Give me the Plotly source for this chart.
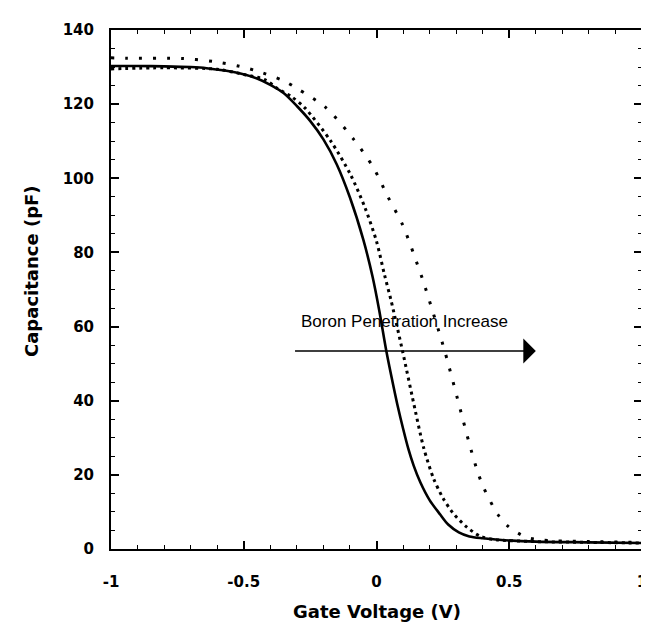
import plotly.graph_objects as go

# Gate voltage (V) and capacitance (pF)
x_solid = [-1.0, -0.9, -0.8, -0.7, -0.64, -0.52, -0.45, -0.4, -0.35, -0.3, -0.25, -0.2, -0.15, -0.1, -0.05,
           -0.015, 0.01, 0.037, 0.065, 0.08, 0.1, 0.12, 0.14, 0.165, 0.2, 0.24, 0.27, 0.31, 0.35, 0.4, 0.46,
           0.6, 0.8, 1.0]
y_solid = [130.3, 130.3, 130.2, 130.0, 129.7, 128.4, 126.9, 125.2, 123.0, 119.5, 115.5, 110.5, 103.8, 94.8, 83.5,
           73.5, 64.5, 53.4, 43.5, 38.5, 32.5, 27.0, 22.5, 18.0, 13.2, 9.3, 6.6, 4.5, 3.4, 2.9, 2.5,
           2.0, 1.8, 1.6]

x_dense = [-1.0, -0.8, -0.6, -0.5, -0.42, -0.375, -0.32, -0.27, -0.172, -0.098, -0.043, 0.0, 0.03, 0.055,
           0.098, 0.147, 0.178, 0.215, 0.25, 0.288, 0.337, 0.392, 0.45, 0.6, 0.8, 1.0]
y_dense = [129.5, 129.8, 129.4, 128.0, 126.6, 124.3, 122.0, 119.0, 110.0, 101.0, 92.0, 83.0, 74.0, 67.0,
           53.4, 37.0, 27.2, 19.0, 13.8, 9.7, 6.1, 3.4, 2.5, 2.0, 1.8, 1.6]

x_sparse = [-1.0, -0.94, -0.73, -0.614, -0.515, -0.453, -0.35, -0.294, -0.19, -0.086, -0.0125, 0.043, 0.098,
            0.141, 0.178, 0.196, 0.257, 0.319, 0.349, 0.38, 0.404, 0.457, 0.496, 0.557, 0.607, 0.8, 1.0]
y_sparse = [132.5, 132.4, 132.3, 131.5, 130.2, 129.0, 126.3, 124.0, 119.0, 110.5, 103.0, 95.0, 87.5,
            79.4, 71.8, 67.7, 53.4, 36.7, 28.6, 21.0, 16.5, 9.3, 6.1, 3.4, 2.5, 2.0, 1.8]

x_tickvals = [-1, -0.5, 0, 0.5, 1]
x_ticktext = ["-1", "-0.5", "0", "0.5", "1"]
y_tickvals = [0, 20, 40, 60, 80, 100, 120, 140]
y_ticktext = ["0", "20", "40", "60", "80", "100", "120", "140"]

arrow_start = (-0.3125, 53.4)
arrow_end = (0.6, 53.4)
label_text = "Boron Penetration Increase"

fig = go.Figure()
fig.add_trace(go.Scatter(x=x_solid, y=y_solid, mode="lines", line_shape="spline",
                         line=dict(color="black", width=2.6, smoothing=0.8), showlegend=False))
fig.add_trace(go.Scatter(x=x_dense, y=y_dense, mode="lines", line_shape="spline",
                         line=dict(color="black", width=3, dash="3px,4px", smoothing=0.8), showlegend=False))
fig.add_trace(go.Scatter(x=x_sparse, y=y_sparse, mode="lines", line_shape="spline",
                         line=dict(color="black", width=3, dash="3px,11px", smoothing=0.8), showlegend=False))

tickfont = dict(family="DejaVu Sans", size=15, color="black", weight="bold")

fig.update_xaxes(range=[-1, 1], tickvals=x_tickvals, ticktext=x_ticktext,
                 showgrid=False, zeroline=False, showline=True, linecolor="black", linewidth=2,
                 mirror="allticks", ticks="inside", ticklen=8, tickwidth=1.5, tickcolor="black",
                 minor=dict(dtick=0.1, ticks="inside", ticklen=4, tickwidth=1.2, tickcolor="black"),
                 tickfont=tickfont, ticklabelstandoff=18, ticklabeloverflow="allow")
fig.update_yaxes(range=[0, 140], tickvals=y_tickvals, ticktext=y_ticktext,
                 showgrid=False, zeroline=False, showline=True, linecolor="black", linewidth=2,
                 mirror="allticks", ticks="inside", ticklen=8, tickwidth=1.5, tickcolor="black",
                 minor=dict(dtick=5, ticks="inside", ticklen=4, tickwidth=1.2, tickcolor="black"),
                 tickfont=tickfont, ticklabelstandoff=12)

fig.add_annotation(x=arrow_end[0], y=arrow_end[1], ax=arrow_start[0], ay=arrow_start[1],
                   xref="x", yref="y", axref="x", ayref="y", text="", showarrow=True,
                   arrowhead=1, arrowsize=2.6, arrowwidth=1.6, arrowcolor="black")
fig.add_annotation(x=0.105, y=61.5, xref="x", yref="y", text=label_text, showarrow=False,
                   font=dict(family="Liberation Sans", size=17, color="black"))
fig.add_annotation(x=0.5, y=-0.1195, xref="paper", yref="paper", text="Gate Voltage (V)",
                   showarrow=False, yanchor="middle",
                   font=dict(family="DejaVu Sans", size=18, color="black", weight="bold"))
fig.add_annotation(x=-80 / 538, y=75, xref="paper", yref="y", text="Capacitance (pF)",
                   showarrow=False, textangle=-90, xanchor="center", yanchor="middle",
                   font=dict(family="DejaVu Sans", size=18, color="black", weight="bold"))

fig.update_layout(width=649, height=623, margin=dict(l=103, r=10, t=22, b=82),
                  plot_bgcolor="white", paper_bgcolor="white")
fig.write_html("out.html")
